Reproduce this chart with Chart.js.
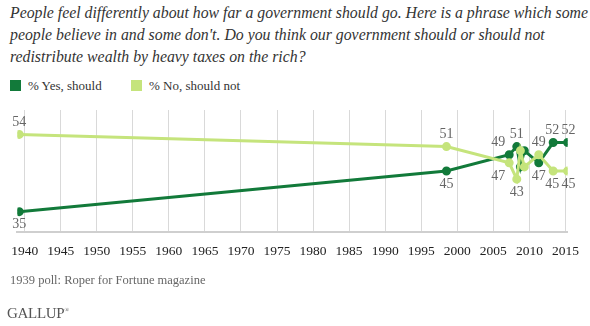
<!DOCTYPE html>
<html>
<head>
<meta charset="utf-8">
<script src="https://cdn.jsdelivr.net/npm/chart.js@4"></script>
<style>
  body { margin: 0; width: 590px; height: 326px; background: #fff; position: relative; overflow: hidden; font-family: "Liberation Serif", serif; }
  #title { position: absolute; left: 10px; top: 2px; width: 585px; font-style: italic; font-size: 15.8px; line-height: 22px; color: #333; }
  .leg { position: absolute; top: 78px; font-size: 13px; color: #333; }
  .leg span { display: inline-block; width: 11px; height: 11px; margin-right: 7px; vertical-align: -1px; }
  #source { position: absolute; left: 10px; top: 273px; font-size: 12.5px; color: #666; }
  #logo { position: absolute; left: 7px; top: 305px; font-size: 15px; color: #555; letter-spacing: -0.3px; }
  #c { position: absolute; left: 0; top: 0; }
</style>
</head>
<body>
<div id="title">People feel differently about how far a government should go. Here is a phrase which some people believe in and some don't. Do you think our government should or should not redistribute wealth by heavy taxes on the rich?</div>
<div class="leg" style="left:10px"><span style="background:#127a3a"></span>% Yes, should</div>
<div class="leg" style="left:131px"><span style="background:#c5e47c"></span>% No, should not</div>
<canvas id="c" width="590" height="326"></canvas>
<div id="source">1939 poll: Roper for Fortune magazine</div>
<div id="logo">GALLUP<sup style="font-size:6px">&reg;</sup></div>
<script>
// Survey dates (fractional years) and results
const pollYears = [1939.25, 1998.5, 2007.2, 2008.25, 2008.75, 2009.3, 2011.3, 2013.3, 2015.3];
const yesShould = [35, 45, 49, 51, 46, 50, 47, 52, 52];
const noShouldNot = [54, 51, 47, 43, 50, 46, 49, 45, 45];
// Which points carry a value label
const labeled = [true, true, true, true, false, false, true, true, true];
const xTicks = [1940, 1945, 1950, 1955, 1960, 1965, 1970, 1975, 1980, 1985, 1990, 1995, 2000, 2005, 2010, 2015];

const darkGreen = '#127a3a';
const lightGreen = '#c5e47c';

const toPoints = vals => vals.map((v, i) => ({ x: pollYears[i], y: v }));

// draws the numbers next to the points, above the higher series and below the lower one
const valueLabels = {
    id: 'valueLabels',
    afterDatasetsDraw(chart) {
        const c = chart.ctx;
        c.save();
        c.font = '14px "Liberation Serif", serif';
        c.fillStyle = '#666';
        c.textAlign = 'center';
        chart.data.datasets.forEach((ds, di) => {
            const other = chart.data.datasets[1 - di];
            const meta = chart.getDatasetMeta(di);
            meta.data.forEach((pt, i) => {
                if (!labeled[i]) return;
                const v = ds.data[i].y;
                const above = v > other.data[i].y;
                let x = pt.x;
                if (i === 2) x -= 11; // 2007 labels sit to the left
                if (i === 7) x -= 1;
                if (i === 8) x += 1;
                c.textBaseline = above ? 'bottom' : 'top';
                c.fillText(String(v), x, above ? pt.y - 5 : pt.y + 6);
            });
        });
        c.restore();
    }
};

new Chart(document.getElementById('c'), {
    type: 'line',
    data: {
        datasets: [
            {
                label: '% No, should not',
                data: toPoints(noShouldNot),
                borderColor: lightGreen,
                backgroundColor: lightGreen,
                borderWidth: 3,
                pointRadius: 3,
                tension: 0
            },
            {
                label: '% Yes, should',
                data: toPoints(yesShould),
                borderColor: darkGreen,
                backgroundColor: darkGreen,
                borderWidth: 3,
                pointRadius: 3,
                tension: 0
            }
        ]
    },
    options: {
        responsive: false,
        animation: false,
        layout: { padding: { top: 110, left: 15, right: 19, bottom: 64 } },
        plugins: { legend: { display: false }, tooltip: { enabled: false } },
        scales: {
            x: {
                type: 'linear',
                min: 1939,
                max: 2015.3,
                afterBuildTicks: s => { s.ticks = xTicks.map(v => ({ value: v })); },
                afterFit: s => { s.height = 30; },
                grid: { color: '#d9d9d9', lineWidth: 1, drawTicks: false },
                border: { color: '#cfcfcf', width: 2 },
                ticks: {
                    padding: 11,
                    color: '#222',
                    maxRotation: 0,
                    autoSkip: false,
                    font: { family: '"Liberation Serif", serif', size: 13.5 },
                    callback: v => String(v)
                }
            },
            y: {
                display: false,
                min: 30,
                max: 60
            }
        }
    },
    plugins: [valueLabels]
});
</script>
</body>
</html>
